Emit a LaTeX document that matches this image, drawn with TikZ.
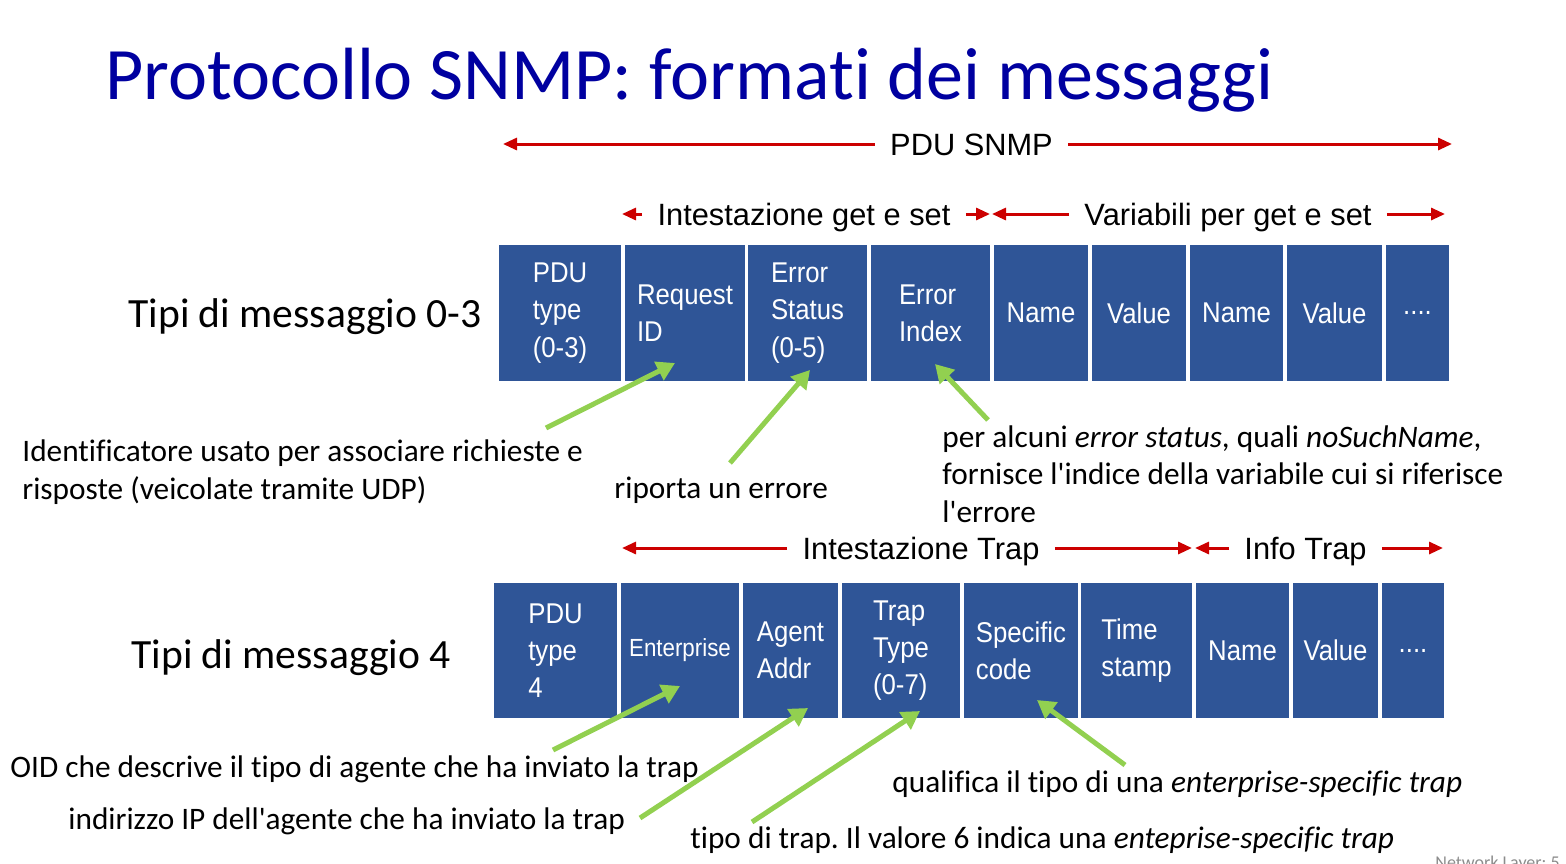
\documentclass[tikz,border=0pt]{standalone}
\usepackage{fontspec}
\setmainfont[Ligatures={NoCommon,TeXOff}]{Carlito}
\newfontfamily\spanfont{Liberation Sans}
\newfontfamily\fieldfont[FakeStretch=0.9]{Liberation Sans}
\usetikzlibrary{arrows.meta}
\definecolor{fieldblue}{RGB}{47,85,151}
\definecolor{spanred}{RGB}{204,0,0}
\definecolor{ptrgreen}{RGB}{146,208,80}
\definecolor{titleblue}{RGB}{0,0,160}
\definecolor{footgray}{RGB}{140,140,140}
\frenchspacing
\begin{document}
\begin{tikzpicture}[x=0.5pt,y=-0.5pt,
  field/.style={fill=fieldblue, text=white, align=left, inner sep=0pt,
    font=\fieldfont\fontsize{14.3}{18.6}\selectfont},
  row1/.style={field, minimum height=68pt},
  row2/.style={field, minimum height=67.5pt},
  rowlabel/.style={anchor=base west, inner sep=0pt, font=\fontsize{20.8}{25}\selectfont},
  span/.style={anchor=base, inner ysep=0pt, inner xsep=7.5pt, text height=11pt, text depth=0pt,
    font=\spanfont\fontsize{15.4}{18}\selectfont},
  spanarrow/.style={draw=spanred, line width=1.5pt, -{Triangle[length=7pt,width=6pt]}},
  pointer/.style={draw=ptrgreen, line width=2.5pt, -{Triangle[length=9pt,width=10pt]}},
  note/.style={anchor=base west, inner sep=0pt, align=left, font=\fontsize{15.65}{18.7}\selectfont}]
\useasboundingbox (0,0) rectangle (1566,863);
\clip (0,0) rectangle (1566,863);

% title
\node[anchor=base west, inner sep=0pt, text=titleblue, font=\fontsize{37}{45}\selectfont]
  (title) at (105,99) {Protocollo SNMP: formati dei messaggi};

% overall span
\node[span] (pdu) at (971.5,155) {PDU SNMP};
\coordinate (pduL) at (503,144);
\coordinate (pduR) at (1452,144);
\draw[spanarrow] (pdu.west) -- (pduL);
\draw[spanarrow] (pdu.east) -- (pduR);

% spans above the get/set fields
\node[span] (hgs) at (804,225) {Intestazione get e set};
\node[span] (vgs) at (1228,225) {Variabili per get e set};
\coordinate (hgsL) at (622,214);
\coordinate (hgsR) at (990,214);
\coordinate (vgsL) at (992,214);
\coordinate (vgsR) at (1445,214);
\draw[spanarrow] (hgs.west) -- (hgsL);
\draw[spanarrow] (hgs.east) -- (hgsR);
\draw[spanarrow] (vgs.west) -- (vgsL);
\draw[spanarrow] (vgs.east) -- (vgsR);

% get/set message fields
\node[rowlabel] (lab1) at (128,327) {Tipi di messaggio 0-3};
\node[row1, minimum width=61pt]   (a1) at (560,313)    {PDU\\type\\(0-3)};
\node[row1, minimum width=60pt]   (a2) at (685,313)    {Request\\ID};
\node[row1, minimum width=59.5pt] (a3) at (807.5,313)  {Error\\Status\\(0-5)};
\node[row1, minimum width=59.5pt] (a4) at (930.5,313)  {Error\\Index};
\node[row1, minimum width=47pt]   (a5) at (1041,313)   {Name};
\node[row1, minimum width=47pt]   (a6) at (1139,313)   {Value};
\node[row1, minimum width=46.5pt] (a7) at (1236.5,313) {Name};
\node[row1, minimum width=47.5pt] (a8) at (1334.5,313) {Value};
\node[row1, minimum width=31.5pt] (a9) at (1417.5,313) {....};

% notes on the get/set fields
\node[note] (n1) at (22,499) {Identificatore usato per associare richieste e\\risposte (veicolate tramite UDP)};
\node[note] (n2) at (614,498) {riporta un errore};
\node[note] (n3) at (942,522) {per alcuni \textit{error status}, quali \textit{noSuchName},\\fornisce l'indice della variabile cui si riferisce\\l'errore};
\coordinate (n1s) at (546,428);
\coordinate (n1t) at (675,363);
\coordinate (n2s) at (730,463);
\coordinate (n2t) at (810,370);
\coordinate (n3s) at (988,420);
\coordinate (n3t) at (935,364);
\draw[pointer] (n1s) -- (n1t);
\draw[pointer] (n2s) -- (n2t);
\draw[pointer] (n3s) -- (n3t);

% spans above the trap fields
\node[span] (htr) at (921,559) {Intestazione Trap};
\node[span] (itr) at (1305.5,559) {Info Trap};
\coordinate (htrL) at (622,548);
\coordinate (htrR) at (1192,548);
\coordinate (itrL) at (1195,548);
\coordinate (itrR) at (1443,548);
\draw[spanarrow] (htr.west) -- (htrL);
\draw[spanarrow] (htr.east) -- (htrR);
\draw[spanarrow] (itr.west) -- (itrL);
\draw[spanarrow] (itr.east) -- (itrR);

% trap message fields
\node[rowlabel] (lab2) at (131,668) {Tipi di messaggio 4};
\node[row2, minimum width=61.5pt] (b1) at (555.5,650.5)  {PDU\\type\\4};
\node[row2, minimum width=59pt, font=\fieldfont\fontsize{12.4}{16}\selectfont]
                                  (b2) at (680,650.5)    {Enterprise};
\node[row2, minimum width=47.5pt] (b3) at (790.5,650.5)  {Agent\\Addr};
\node[row2, minimum width=59pt]   (b4) at (901,650.5)    {Trap\\Type\\(0-7)};
\node[row2, minimum width=57pt]   (b5) at (1021,650.5)   {Specific\\code};
\node[row2, minimum width=55.5pt] (b6) at (1136.5,650.5) {Time\\stamp};
\node[row2, minimum width=46.5pt] (b7) at (1242.5,650.5) {Name};
\node[row2, minimum width=42.5pt] (b8) at (1335.5,650.5) {Value};
\node[row2, minimum width=31pt]   (b9) at (1413,650.5)   {....};

% notes on the trap fields
\node[note] (m1) at (10,777) {OID che descrive il tipo di agente che ha inviato la trap};
\node[note] (m2) at (68,829) {indirizzo IP dell'agente che ha inviato la trap};
\node[note] (m3) at (892,792) {qualifica il tipo di una \textit{enterprise-specific trap}};
\node[note] (m4) at (690,848) {tipo di trap. Il valore 6 indica una \textit{enteprise-specific trap}};
\coordinate (m1s) at (553,750);
\coordinate (m1t) at (680,686);
\coordinate (m2s) at (640,818);
\coordinate (m2t) at (808,708);
\coordinate (m3s) at (752,822);
\coordinate (m3t) at (920,711);
\coordinate (m4s) at (1125,765);
\coordinate (m4t) at (1037,700);
\draw[pointer] (m1s) -- (m1t);
\draw[pointer] (m2s) -- (m2t);
\draw[pointer] (m3s) -- (m3t);
\draw[pointer] (m4s) -- (m4t);

% footer
\node[anchor=base west, inner sep=0pt, text=footgray, font=\fontsize{9}{11}\selectfont]
  (foot) at (1435,868) {Network Layer: 5};
\end{tikzpicture}
\end{document}
